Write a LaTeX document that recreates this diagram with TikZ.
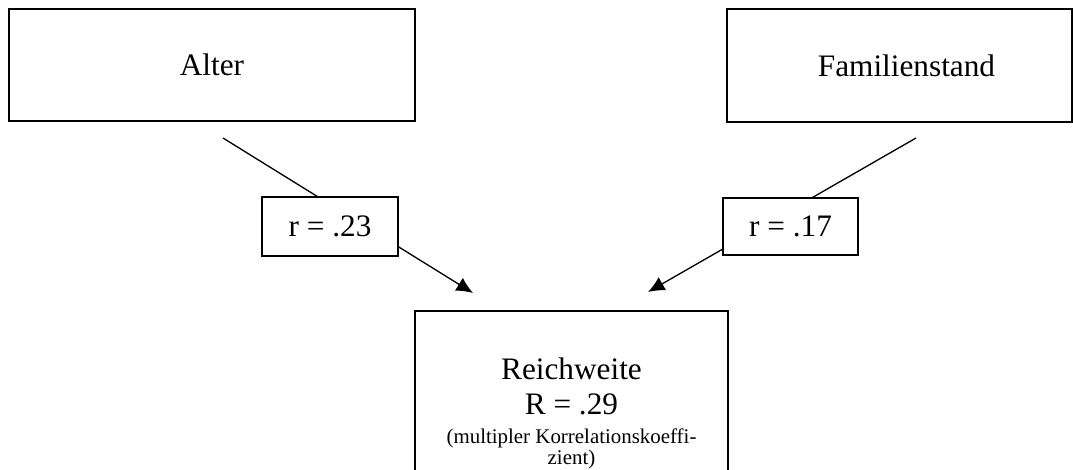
\documentclass[tikz,border=0pt]{standalone}
\usepackage{fontspec}
\setmainfont{Liberation Serif}
\usetikzlibrary{arrows.meta}
\newcommand\kleinschrift{\fontsize{11.9}{11.9}\selectfont}

\begin{document}
\begin{tikzpicture}[x=0.02cm,y=-0.02cm,
	kasten/.style={draw,line width=1.1pt,fill=white,inner sep=0pt,font=\fontsize{17.8}{19.9}\selectfont},
	pfeil/.style={line width=0.75pt,-{Latex[length=0.33cm,width=0.3cm]}}]
	\useasboundingbox (0,0) rectangle (1073,470);
	% Verbindungen
	\coordinate (a1) at (223,138); \coordinate (t1) at (473,293);
	\coordinate (a2) at (916,138); \coordinate (t2) at (648,292);
	\draw[pfeil] (a1) -- (t1);
	\draw[pfeil] (a2) -- (t2);
	% Kaesten
	\node[kasten,minimum width=8.12cm,minimum height=2.24cm] (alter) at (212,65) {Alter};
	\node[kasten,minimum width=6.9cm,minimum height=2.26cm] (familie) at (899.5,65.5) {\hspace{0.28cm}Familienstand};
	\node[kasten,minimum width=2.72cm,minimum height=1.18cm] (r1) at (330,226.5) {r = .23\hspace{0.28cm}};
	\node[kasten,minimum width=2.7cm,minimum height=1.14cm] (r2) at (790.5,226.5) {r = .17\hspace{0.2cm}};
	\node[kasten,anchor=north,align=center,minimum width=6.26cm,inner ysep=0.94cm] (reich) at (571.5,310)
		{Reichweite\\R = .29\\[-3.4pt]{\kleinschrift (multipler Korrelationskoeffi-}\\[-8pt]{\kleinschrift zient)}};
\end{tikzpicture}
\end{document}
